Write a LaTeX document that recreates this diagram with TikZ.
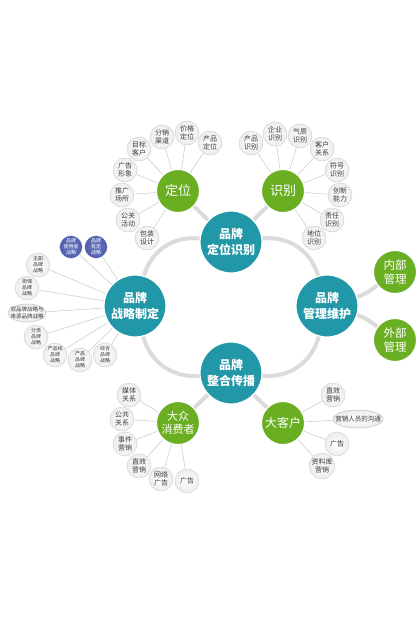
\documentclass[tikz,border=0pt]{standalone}
\usepackage{fontspec}
\setmainfont{Noto Sans CJK SC}
\usepackage{xcolor}
\usetikzlibrary{shapes.geometric}
\definecolor{brandteal}{HTML}{2297A8}
\definecolor{brandgreen}{HTML}{6AAE22}
\definecolor{brandblue}{HTML}{4E5EAE}
\definecolor{twiggray}{HTML}{C2C7CB}
\definecolor{inkgray}{HTML}{3A3A3A}
\pgfdeclarelayer{bg}
\pgfsetlayers{bg,main}

\begin{document}
\begin{tikzpicture}[x=1pt,y=1pt,
  mainball/.style={circle, minimum size=62pt, inner sep=0pt, fill=brandteal,
    draw=white, line width=1.2pt, text=white, align=center,
    font=\fontsize{12}{16}\selectfont\bfseries},
  greenball/.style={circle, minimum size=43pt, inner sep=0pt, fill=brandgreen,
    draw=white, line width=1pt, text=white, align=center,
    font=\fontsize{13}{15}\selectfont},
  leaf/.style={circle, minimum size=24pt, inner sep=0pt, shade,
    inner color=white, outer color=gray!14, draw=gray!40, line width=0.4pt,
    text=inkgray, align=center, font=\fontsize{7}{8.5}\selectfont},
  tinyleaf/.style={leaf, font=\fontsize{5}{6}\selectfont},
  blueleaf/.style={tinyleaf, inner color=brandblue!85, outer color=brandblue,
    draw=white, text=white},
  ovalleaf/.style={leaf, ellipse, minimum size=0pt, minimum height=18pt,
    draw=gray!50, line width=0.5pt},
  band/.style={draw=gray!28, line width=4pt, line cap=round},
  twig/.style={draw=twiggray, line width=0.5pt},
]
  \useasboundingbox (0,0) rectangle (420,-630);

  % four main brand circles
  \node[mainball] (dw) at (231,-242) {品牌\\定位识别};
  \node[mainball] (zl) at (135,-306) {品牌\\战略制定};
  \node[mainball] (gl) at (327,-306) {品牌\\管理维护};
  \node[mainball] (zh) at (231,-373) {品牌\\整合传播};

  % green sub circles
  \node[greenball] (dingwei) at (178,-191) {定位};
  \node[greenball] (shibie) at (283,-191) {识别};
  \node[greenball, font=\fontsize{11.5}{13.5}\selectfont] (neibu) at (395,-272) {内部\\管理};
  \node[greenball, font=\fontsize{11.5}{13.5}\selectfont] (waibu) at (395,-340) {外部\\管理};
  \node[greenball, font=\fontsize{11}{13}\selectfont] (dazhong) at (178,-423) {大众\\消费者};
  \node[greenball, font=\fontsize{12}{14}\selectfont] (dakehu) at (283,-423) {大客户};

  % grey bands behind the circles
  \begin{pgfonlayer}{bg}
    \draw[band] (dw) to[bend right=40] (zl);
    \draw[band] (dw) to[bend left=40] (gl);
    \draw[band] (zl) to[bend right=40] (zh);
    \draw[band] (gl) to[bend left=40] (zh);
    \draw[band] (dw) -- (dingwei);
    \draw[band] (dw) -- (shibie);
    \draw[band] (gl) to[bend right=10] (neibu);
    \draw[band] (gl) to[bend left=10] (waibu);
    \draw[band] (zh) -- (dazhong);
    \draw[band] (zh) -- (dakehu);
  \end{pgfonlayer}

  % leaves of 定位
  \foreach \x/\y/\txt [count=\i] in {139/149/{目标\\客户}, 162/137/{分销\\渠道},
    187/133/{价格\\定位}, 210/143/{产品\\定位}, 125/170/{广告\\形象},
    122/195/{推广\\场所}, 128/220/{公关\\活动}, 147/238/{包装\\设计}} {
    \node[leaf] (dwl\i) at (\x,-\y) {\txt};
    \begin{pgfonlayer}{bg}\draw[twig] (dingwei) -- (dwl\i);\end{pgfonlayer}
  }

  % leaves of 识别
  \foreach \x/\y/\txt [count=\i] in {251/143/{产品\\识别}, 275/134/{企业\\识别},
    300/136/{气质\\识别}, 322/149/{客户\\关系}, 337/170/{符号\\识别},
    340/195/{创新\\能力}, 332/220/{责任\\识别}, 314/238/{地位\\识别}} {
    \node[leaf] (sbl\i) at (\x,-\y) {\txt};
    \begin{pgfonlayer}{bg}\draw[twig] (shibie) -- (sbl\i);\end{pgfonlayer}
  }

  % leaves of 战略制定
  \foreach \x/\y/\txt [count=\i] in {71/247/{品牌\\使用者\\战略}, 96/247/{品牌\\有无\\战略}} {
    \node[blueleaf, minimum size=23pt] (zlb\i) at (\x,-\y) {\txt};
    \begin{pgfonlayer}{bg}\draw[twig] (zl) -- (zlb\i);\end{pgfonlayer}
  }
  \foreach \x/\y/\txt [count=\i] in {38/265/{主副\\品牌\\战略}, 27/288/{担保\\品牌\\战略},
    36/337/{分类\\品牌\\战略}, 55/355/{产品线\\品牌\\战略},
    80/360/{产品\\品牌\\战略}, 105/355/{综合\\品牌\\战略}} {
    \node[tinyleaf] (zll\i) at (\x,-\y) {\txt};
    \begin{pgfonlayer}{bg}\draw[twig] (zl) -- (zll\i);\end{pgfonlayer}
  }
  \node[ovalleaf, font=\fontsize{5.5}{6.5}\selectfont, inner xsep=-3pt] (zloval) at (27,-313)
    {双品牌战略与\\来源品牌战略};
  \begin{pgfonlayer}{bg}\draw[twig] (zl) -- (zloval);\end{pgfonlayer}

  % leaves of 大众消费者
  \foreach \x/\y/\txt [count=\i] in {129/395/{媒体\\关系}, 122/419/{公共\\关系},
    125/444/{事件\\营销}, 139/466/{直效\\营销}, 161/479/{网络\\广告}, 187/481/{广告}} {
    \node[leaf] (dzl\i) at (\x,-\y) {\txt};
    \begin{pgfonlayer}{bg}\draw[twig] (dazhong) -- (dzl\i);\end{pgfonlayer}
  }

  % leaves of 大客户
  \foreach \x/\y/\txt [count=\i] in {333/395/{直效\\营销}, 337/444/{广告},
    322/466/{资料库\\营销}} {
    \node[leaf] (dkl\i) at (\x,-\y) {\txt};
    \begin{pgfonlayer}{bg}\draw[twig] (dakehu) -- (dkl\i);\end{pgfonlayer}
  }
  \node[ovalleaf, font=\fontsize{6.5}{8}\selectfont, inner xsep=-5pt] (dkoval) at (358,-419)
    {营销人员的沟通};
  \begin{pgfonlayer}{bg}\draw[twig] (dakehu) -- (dkoval);\end{pgfonlayer}

\end{tikzpicture}
\end{document}
